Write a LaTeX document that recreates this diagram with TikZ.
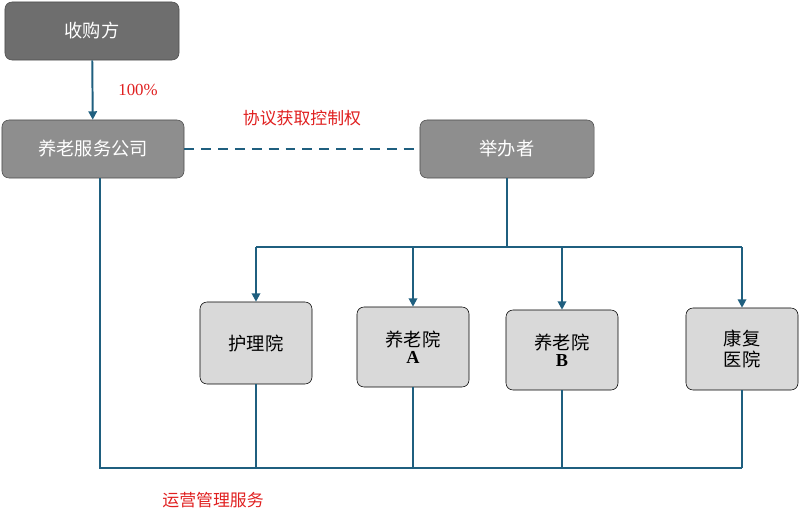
\documentclass[tikz,border=0pt]{standalone}
\usepackage{fontspec}
\setmainfont{Liberation Serif}
\newfontfamily\cjk{Noto Sans CJK SC}
\usetikzlibrary{arrows.meta}
\definecolor{lnblue}{HTML}{1F5F7F}
\definecolor{darkbox}{HTML}{6E6E6E}
\definecolor{midbox}{HTML}{8E8E8E}
\definecolor{litebox}{HTML}{D9D9D9}
\definecolor{lbred}{HTML}{E02020}
\begin{document}
\begin{tikzpicture}[
    x=0.025cm, y=-0.025cm,
    topbox/.style={draw=black!70, rounded corners=5pt, text=white, font=\cjk\fontsize{13}{15}\selectfont},
    unit/.style={draw=black, fill=litebox, rounded corners=5pt, align=center, font=\cjk\fontsize{13}{15}\selectfont},
    conn/.style={draw=lnblue, line width=1.4pt},
    arr/.style={conn, -{Triangle[length=6pt,width=6pt]}},
    note/.style={text=lbred, font=\cjk\fontsize{12}{14}\selectfont}]
\useasboundingbox (0,0) rectangle (800,531);
% top row
\node[topbox, fill=darkbox, minimum width=4.35cm, minimum height=1.45cm] (buyer) at (92,31) {收购方};
\node[topbox, fill=midbox, minimum width=4.55cm, minimum height=1.45cm] (firm) at (93,149) {养老服务公司};
\node[topbox, fill=midbox, minimum width=4.35cm, minimum height=1.45cm] (sponsor) at (507,149) {举办者};
% units
\node[unit, minimum width=2.8cm, minimum height=2.05cm] (nursing) at (256,343) {护理院};
\node[unit, minimum width=2.8cm, minimum height=2.0cm] (homeA) at (413,347) {养老院\\[-3pt]\textbf{\fontspec{Liberation Serif}A}};
\node[unit, minimum width=2.8cm, minimum height=2.0cm] (homeB) at (562,350) {养老院\\[-3pt]\textbf{\fontspec{Liberation Serif}B}};
\node[unit, minimum width=2.8cm, minimum height=2.05cm] (rehab) at (742,349) {康复\\医院};
% ownership
\draw[arr] (buyer) -- (firm);
\node[note, font=\fontsize{12}{14}\selectfont] (pct) at (138,90) {100\%};
\draw[conn, dashed, dash pattern=on 7pt off 5pt] (firm) -- (sponsor);
\node[note] (ctrl) at (302,118) {协议获取控制权};
% sponsor branch
\coordinate (bus) at (507,247);
\draw[conn] (sponsor.south) -- (bus);
\draw[conn] (nursing.north |- bus) -- (rehab.north |- bus);
\foreach \u in {nursing,homeA,homeB,rehab}
  \draw[arr] (\u.north |- bus) -- (\u.north);
% service bus
\coordinate (sbus) at (100,468);
\draw[conn] (firm.south -| sbus) -- (sbus) -- (rehab.south |- sbus);
\foreach \u in {nursing,homeA,homeB,rehab}
  \draw[conn] (\u.south) -- (\u.south |- sbus);
\node[note] (svc) at (213,500) {运营管理服务};
\end{tikzpicture}
\end{document}
